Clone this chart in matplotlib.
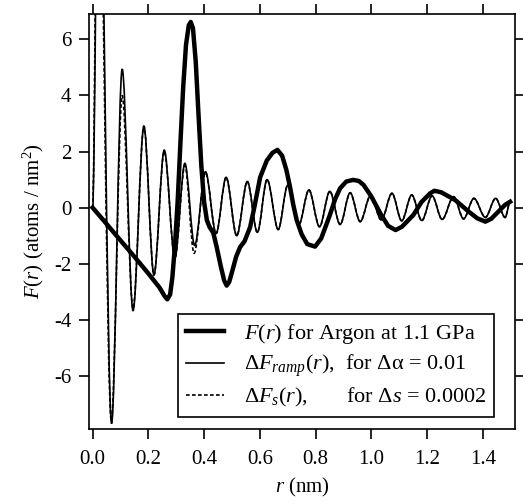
import matplotlib
matplotlib.use("Agg")
import matplotlib.pyplot as plt
from matplotlib.path import Path
from matplotlib.patches import PathPatch
from matplotlib.lines import Line2D

plt.rcParams['font.family'] = 'Liberation Serif'
plt.rcParams['mathtext.fontset'] = 'custom'
plt.rcParams['mathtext.rm'] = 'Liberation Serif'
plt.rcParams['mathtext.it'] = 'Liberation Serif:italic'
plt.rcParams['axes.unicode_minus'] = False

# F(r) for argon at 1.1 GPa
argon_r = [0.0, 0.05, 0.10, 0.15, 0.20, 0.24, 0.258, 0.268, 0.278, 0.286, 0.295, 0.305,
           0.315, 0.325, 0.335, 0.345, 0.352, 0.36, 0.37, 0.38, 0.39, 0.40, 0.41, 0.42,
           0.433, 0.445, 0.46, 0.472, 0.481, 0.49, 0.50, 0.515, 0.529, 0.545, 0.565, 0.58,
           0.601, 0.625, 0.645, 0.663, 0.68, 0.695, 0.708, 0.72, 0.732, 0.75, 0.77, 0.798,
           0.82, 0.85, 0.87, 0.888, 0.91, 0.935, 0.955, 0.972, 1.0, 1.032, 1.06, 1.087,
           1.11, 1.151, 1.18, 1.211, 1.226, 1.25, 1.301, 1.349, 1.38, 1.409, 1.43, 1.456,
           1.48, 1.498]
argon_v = [0.0, -0.58, -1.17, -1.75, -2.35, -2.85, -3.15, -3.27, -3.1, -2.5, -1.4, 0.2,
           2.3, 4.3, 5.8, 6.5, 6.62, 6.4, 5.2, 3.3, 1.5, 0.2, -0.45, -0.7,
           -0.9, -1.4, -2.1, -2.6, -2.78, -2.65, -2.3, -1.75, -1.41, -1.2, -0.7, 0.0,
           1.08, 1.68, 1.95, 2.06, 1.85, 1.35, 0.75, 0.1, -0.44, -0.95, -1.3, -1.39,
           -1.1, -0.3, 0.3, 0.69, 0.93, 0.99, 0.95, 0.81, 0.4, -0.2, -0.65, -0.8,
           -0.68, -0.26, 0.2, 0.51, 0.6, 0.55, 0.27, -0.14, -0.38, -0.5, -0.4, -0.14,
           0.1, 0.21]

# Delta F_ramp(r): turning points of the thin solid curve
ramp_r = [0.0, 0.022, 0.068, 0.106, 0.145, 0.184, 0.220, 0.257, 0.295, 0.331, 0.366,
          0.405, 0.443, 0.479, 0.517, 0.555, 0.591, 0.626, 0.666, 0.700, 0.740, 0.776,
          0.814, 0.851, 0.888, 0.924, 0.960, 0.997, 1.036, 1.074, 1.109, 1.145, 1.181,
          1.218, 1.254, 1.295, 1.331, 1.368, 1.409, 1.446, 1.480, 1.498]
ramp_v = [0.0, 15.0, -7.7, 4.94, -3.67, 2.9, -2.4, 2.05, -1.8, 1.58, -1.35,
          1.28, -0.92, 1.08, -1.0, 0.93, -0.88, 1.0, -0.78, 0.8, -0.6, 0.63,
          -0.68, 0.58, -0.6, 0.53, -0.5, 0.42, -0.44, 0.51, -0.47, 0.45, -0.46,
          0.42, -0.42, 0.39, -0.4, 0.33, -0.35, 0.33, -0.35, 0.2]

# Delta F_s(r): turning points of the dashed curve
shift_r = [0.0, 0.019, 0.067, 0.106, 0.145, 0.184, 0.220, 0.257, 0.295, 0.331, 0.364,
           0.405, 0.443, 0.479, 0.517, 0.555, 0.591, 0.626, 0.666, 0.700, 0.740, 0.776,
           0.814, 0.851, 0.888, 0.924, 0.960, 0.997, 1.036, 1.074, 1.109, 1.145, 1.181,
           1.218, 1.254, 1.295, 1.331, 1.368, 1.409, 1.446, 1.480, 1.498]
shift_v = [0.0, 15.0, -7.6, 4.0, -3.6, 2.9, -2.4, 2.0, -1.8, 1.5, -1.63,
           1.25, -0.92, 1.08, -1.0, 0.93, -0.88, 1.0, -0.78, 0.8, -0.6, 0.63,
           -0.68, 0.58, -0.6, 0.53, -0.5, 0.42, -0.44, 0.51, -0.47, 0.45, -0.46,
           0.42, -0.42, 0.39, -0.4, 0.33, -0.35, 0.33, -0.35, 0.2]

labels = ["$F(r)$ for Argon at 1.1 GPa",
          "Δ$F_{ramp}(r)$,  for Δα = 0.01",
          "Δ$F_s(r)$,       for Δ$s$ = 0.0002"]


def smooth(r, v):
    # cubic pieces with flat tangents at every turning point
    verts = [(r[0], v[0])]
    codes = [Path.MOVETO]
    for i in range(1, len(r)):
        d = (r[i] - r[i - 1]) / 3.0
        verts += [(r[i - 1] + d, v[i - 1]), (r[i] - d, v[i]), (r[i], v[i])]
        codes += [Path.CURVE4] * 3
    return Path(verts, codes)


fig = plt.figure(figsize=(5.23, 5.04), dpi=100)
ax = fig.add_axes([0.170, 0.149, 0.815, 0.823])

dash = (0, (2.2, 1.4))
ax.add_patch(PathPatch(smooth(shift_r, shift_v), fill=False, edgecolor='black',
                       linewidth=1.2, linestyle=dash))
ax.add_patch(PathPatch(smooth(ramp_r, ramp_v), fill=False, edgecolor='black', linewidth=1.2))
ax.plot(argon_r, argon_v, color='black', linewidth=3.2, solid_joinstyle='round')

ax.set_xlim(-0.0133, 1.516)
ax.set_ylim(-7.89, 6.9)
ax.set_xticks([0.0, 0.2, 0.4, 0.6, 0.8, 1.0, 1.2, 1.4])
ax.set_xticklabels(["0.0", "0.2", "0.4", "0.6", "0.8", "1.0", "1.2", "1.4"])
ax.set_yticks([-6, -4, -2, 0, 2, 4, 6])
ax.tick_params(direction='out', length=7.5, width=1.2, labelsize=15, pad=5,
               top=True, right=True)
ax.tick_params(axis='x', pad=8)
for s in ax.spines.values():
    s.set_linewidth(1.2)

ax.set_xlabel("$r$ (nm)", fontsize=15, labelpad=5)
ax.set_ylabel("$F(r)$ (atoms / nm$^2$)", fontsize=15, labelpad=6)

handles = [Line2D([], [], color='black', linewidth=3.2),
           Line2D([], [], color='black', linewidth=1.2),
           Line2D([], [], color='black', linewidth=1.2, linestyle=dash)]
leg = ax.legend(handles, labels, loc='lower left', bbox_to_anchor=(0.209, 0.029),
                borderaxespad=0, fontsize=16, frameon=True, fancybox=False,
                framealpha=1, edgecolor='black', handlelength=1.7, handletextpad=0.9,
                labelspacing=0.3, borderpad=0.35)
leg.get_frame().set_linewidth(1.2)

fig.savefig("out.png", dpi=100)
